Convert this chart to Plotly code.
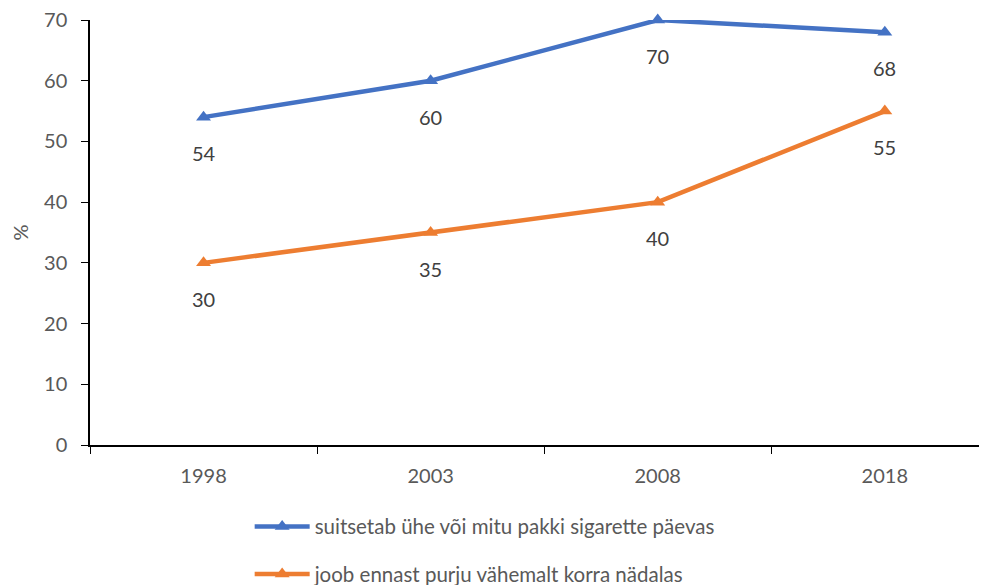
import plotly.graph_objects as go

years = ["1998", "2003", "2008", "2018"]
smoking = [54, 60, 70, 68]
drinking = [30, 35, 40, 55]
name_smoking = "suitsetab ühe või mitu pakki sigarette päevas"
name_drinking = "joob ennast purju vähemalt korra nädalas"

blue = "#4472C4"
orange = "#ED7D31"
gray = "#595959"
font_family = "Lato, 'Open Sans', sans-serif"

fig = go.Figure()
for name, vals, col, grp in [(name_smoking, smoking, blue, "a"), (name_drinking, drinking, orange, "b")]:
    fig.add_trace(go.Scatter(
        x=years, y=vals, name=name, mode="lines+markers",
        line=dict(color=col, width=4.5),
        marker=dict(symbol="triangle-up", size=13, color=col),
        legendgroup=grp, cliponaxis=False,
    ))
    for i, yv in enumerate(vals):
        fig.add_annotation(x=i, y=yv, xref="x", yref="y", text=str(yv), showarrow=False,
                           yshift=-36, font=dict(size=20, color="#404040", family=font_family))

# page body has an 8px margin, so the figure is sized/offset to compensate
fig.update_layout(
    width=979, height=577,
    margin=dict(l=82, r=0, t=12, b=140, autoexpand=False),
    plot_bgcolor="white", paper_bgcolor="white",
    font=dict(family=font_family, color=gray, size=20),
    showlegend=True,
    legend=dict(orientation="v", x=0.178, y=-0.145, xanchor="left", yanchor="top",
                tracegroupgap=18, itemwidth=55, font=dict(size=20.5, color=gray)),
)
fig.update_xaxes(
    type="category", range=[-0.5, 3.45], automargin=False,
    showline=True, linecolor="black", linewidth=1.5,
    ticks="outside", tickson="boundaries", ticklen=7, tickcolor="black",
    showgrid=False, zeroline=False, ticklabelstandoff=12,
    tickfont=dict(size=20, color=gray),
)
fig.update_yaxes(
    range=[0, 70], dtick=10, automargin=False, ticklabeloverflow="allow",
    showline=True, linecolor="black", linewidth=1.5,
    ticks="outside", ticklen=7, tickcolor="black",
    showgrid=False, zeroline=False, ticklabelstandoff=10,
    tickfont=dict(size=20, color=gray),
    title=dict(text="%", font=dict(size=20, color=gray), standoff=16),
)

fig.write_html("out.html")
